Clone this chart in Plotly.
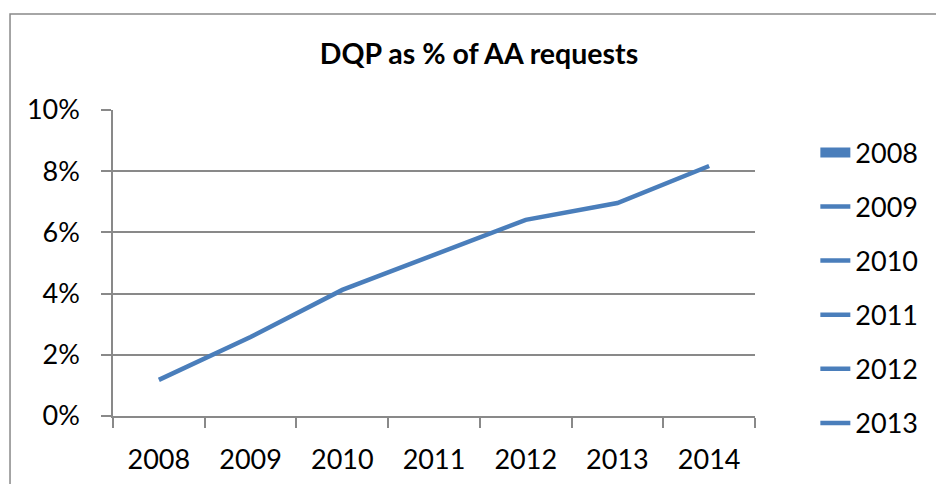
import plotly.graph_objects as go

years = ["2008", "2009", "2010", "2011", "2012", "2013", "2014"]
dqp_share = [0.0118, 0.0258, 0.0412, 0.0527, 0.0641, 0.0696, 0.0817]
legend_labels = ["2008", "2009", "2010", "2011", "2012", "2013"]
legend_widths = [12, 4.5, 4.5, 4.5, 4.5, 4.5]

BLUE = "#4A7EBB"
GRAY = "#898989"
FONT = "Lato"

fig = go.Figure()
fig.add_trace(go.Scatter(x=years, y=dqp_share, mode="lines",
                         line=dict(color=BLUE, width=4.5), showlegend=False,
                         hoverinfo="skip"))
for i, (lab, w) in enumerate(zip(legend_labels, legend_widths)):
    fig.add_trace(go.Scatter(x=[None], y=[None], mode="lines", name=lab,
                             legendgroup=f"g{i}",
                             line=dict(color=BLUE, width=w)))

fig.update_layout(
    width=936, height=484,
    margin=dict(l=113, r=181, t=110, b=68),
    paper_bgcolor="white", plot_bgcolor="white",
    font=dict(family=FONT, size=27, color="black"),
    title=dict(text="<b>DQP as % of AA requests</b>", x=479/936, xanchor="center",
               y=1 - 54/484, yanchor="middle", yref="container",
               font=dict(family=FONT, size=28.5, color="black")),
    showlegend=True,
    legend=dict(x=1.094, xanchor="left", y=0.94, yanchor="top",
                tracegroupgap=16, bgcolor="rgba(0,0,0,0)", maxheight=420,
                font=dict(family=FONT, size=27, color="black")),
    shapes=[dict(type="path", xref="paper", yref="paper",
                 path="M -0.1604 -0.3 L -0.1604 1.3137 L 1.4 1.3137",
                 line=dict(color=GRAY, width=1.5), layer="above")],
)
fig.update_xaxes(type="category", tickson="boundaries", ticks="outside",
                 ticklen=10, tickcolor=GRAY, tickwidth=1.5,
                 showline=True, linecolor=GRAY, linewidth=1.5,
                 showgrid=False, ticklabelstandoff=19, automargin=False,
                 range=[-0.5, 6.5])
fig.update_yaxes(range=[0, 0.1], dtick=0.02, tickformat=".0%",
                 ticks="outside", ticklen=10, tickcolor=GRAY, tickwidth=1.5,
                 showline=True, linecolor=GRAY, linewidth=1.5,
                 showgrid=True, gridcolor=GRAY, gridwidth=1.5,
                 zeroline=False, ticklabelstandoff=16, automargin=False)

fig.write_html("out.html")
